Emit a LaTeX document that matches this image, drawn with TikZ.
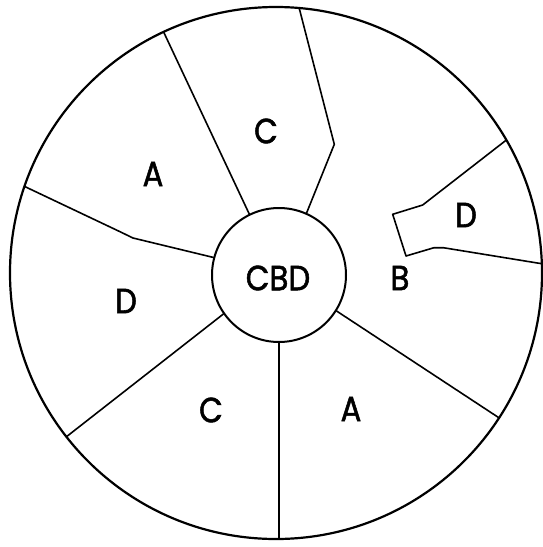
\documentclass[tikz,border=0pt]{standalone}
\usepackage{fontspec}
\setmainfont{Poppins}
\newfontfamily\lblfont{Poppins}[FakeBold=1.6]
\newcommand{\lbl}[1]{\scalebox{0.88}[1]{\lblfont\fontsize{35}{37}\selectfont #1}}
\begin{document}
\begin{tikzpicture}[x=1pt,y=-1pt,
  region/.style={line width=1.6pt, line join=round},
  label/.style={inner sep=0pt},
  ring/.style={draw, circle, line width=2.2pt, inner sep=0pt, outer sep=0pt}]
\useasboundingbox (0,0) rectangle (543,547);
\node[ring, minimum size=532pt] (outer) at (276,273) {};
\node[ring, minimum size=134pt, line width=2pt] (cbd) at (279,275) {};
\node[label] (tcbd) at (278,278) {\lbl{CBD}};
% boundaries
\draw[region] (cbd.116) -- (outer.115.7);
\draw[region] (cbd.66) -- (306.7,212.7) -- (334.3,144.3) -- (outer.85.5);
\draw[region] (cbd.165) -- (133,238) -- (120,231.7) -- (outer.161.5);
\draw[region] (cbd.215.8) -- (outer.218.6);
\draw[region] (cbd.south) -- (cbd.south |- outer.south);
\draw[region] (cbd.-32.7) -- (outer.-33.7);
\draw[region] (outer.30.3) -- (422.7,205) -- (392.7,214.3) -- (406,256) -- (434,247.7) -- (443.3,247.7) -- (outer.2.5);
% labels
\node[label] (c1) at (266,131) {\lbl{C}};
\node[label] (a1) at (153,174) {\lbl{A}};
\node[label] (d1) at (126,301) {\lbl{D}};
\node[label] (c2) at (211,410) {\lbl{C}};
\node[label] (a2) at (351,409) {\lbl{A}};
\node[label] (b1) at (400,278) {\lbl{B}};
\node[label] (d2) at (466,215) {\lbl{D}};
\end{tikzpicture}
\end{document}
